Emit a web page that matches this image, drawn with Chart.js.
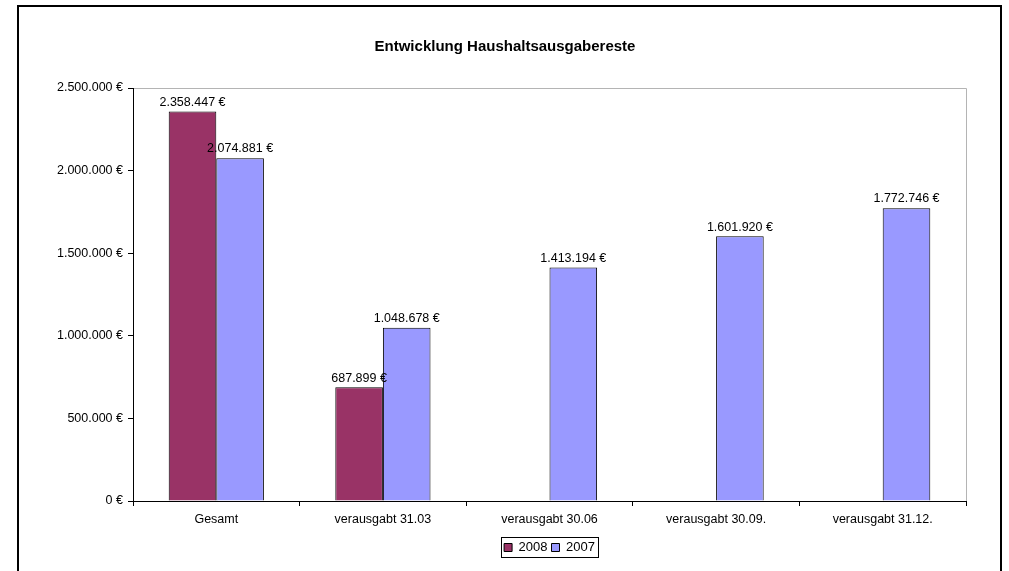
<!DOCTYPE html>
<html>
<head>
<meta charset="utf-8">
<title>Entwicklung Haushaltsausgabereste</title>
<script src="https://cdn.jsdelivr.net/npm/chart.js@4.4.0/dist/chart.umd.min.js"></script>
<style>
  html, body { margin: 0; padding: 0; background: #fff; }
</style>
</head>
<body>
<canvas id="chart" width="1009" height="571"></canvas>
<script>
// Daten aus der Vorlage
const categories = ['Gesamt', 'verausgabt 31.03', 'verausgabt 30.06', 'verausgabt 30.09.', 'verausgabt 31.12.'];
const values2008 = [2358447, 687899, null, null, null];
const values2007 = [2074881, 1048678, 1413194, 1601920, 1772746];
const yTicks = [0, 500000, 1000000, 1500000, 2000000, 2500000];

const FONT = '"Liberation Sans", Arial, sans-serif';

const euro = v => String(v).replace(/\B(?=(\d{3})+(?!\d))/g, '.') + ' €';

// Rahmen um das ganze Diagramm und die Zeichenfläche
const framePlugin = {
    id: 'frame',
    beforeDraw(chart) {
        const c = chart.ctx;
        const a = chart.chartArea;
        c.save();
        c.fillStyle = '#fff';
        c.fillRect(0, 0, chart.width, chart.height);
        c.strokeStyle = '#000';
        c.lineWidth = 2;
        c.strokeRect(18, 6, 983, 600);
        c.strokeStyle = '#b4b4b4';
        c.lineWidth = 1;
        c.beginPath();
        c.moveTo(Math.round(a.left) + 0.5, Math.round(a.top) + 0.5);
        c.lineTo(Math.round(a.right) + 0.5, Math.round(a.top) + 0.5);
        c.lineTo(Math.round(a.right) + 0.5, Math.round(a.bottom) + 0.5);
        c.stroke();
        c.restore();
    },
    afterDraw(chart) {
        // Kasten um die Legende
        const boxes = chart.legend.legendHitBoxes;
        if (!boxes || !boxes.length) return;
        let l = Infinity, r = -Infinity, t = Infinity, b = -Infinity;
        boxes.forEach(h => {
            l = Math.min(l, h.left); r = Math.max(r, h.left + h.width);
            t = Math.min(t, h.top); b = Math.max(b, h.top + h.height);
        });
        const c = chart.ctx;
        c.save();
        c.strokeStyle = '#000';
        c.lineWidth = 1;
        c.strokeRect(Math.round(l - 3) + 0.5, Math.round(t - 4) + 0.5, Math.round(r - l + 6), Math.round(b - t + 7));
        c.restore();
    }
};

// Wertebeschriftung über den Säulen
const labelPlugin = {
    id: 'barLabels',
    afterDatasetsDraw(chart) {
        const c = chart.ctx;
        c.save();
        c.font = '12.5px ' + FONT;
        c.fillStyle = '#000';
        c.textAlign = 'center';
        c.textBaseline = 'bottom';
        chart.data.datasets.forEach((ds, i) => {
            const meta = chart.getDatasetMeta(i);
            meta.data.forEach((bar, j) => {
                const v = ds.data[j];
                if (v === null || v === undefined) return;
                c.fillText(euro(v), bar.x, bar.y - 3);
            });
        });
        c.restore();
    }
};

new Chart(document.getElementById('chart'), {
    type: 'bar',
    data: {
        labels: categories,
        datasets: [{
            label: '2008',
            data: values2008,
            backgroundColor: '#993366',
            borderColor: '#000',
            borderWidth: 1
        }, {
            label: '2007',
            data: values2007,
            backgroundColor: '#9999ff',
            borderColor: '#000',
            borderWidth: 1
        }]
    },
    options: {
        responsive: false,
        animation: false,
        categoryPercentage: 2 / 3.5,
        barPercentage: 1,
        layout: { padding: { left: 44, right: 43, top: 0, bottom: 7 } },
        plugins: {
            title: {
                display: true,
                text: 'Entwicklung Haushaltsausgabereste',
                color: '#000',
                font: { family: FONT, size: 15, weight: 'bold' },
                padding: { top: 38, bottom: 32 }
            },
            legend: {
                position: 'bottom',
                fullSize: false,
                labels: {
                    color: '#000',
                    boxWidth: 8,
                    boxHeight: 8,
                    padding: 4,
                    font: { family: FONT, size: 13 }
                }
            },
            tooltip: { enabled: false }
        },
        scales: {
            x: {
                grid: { drawOnChartArea: false, tickLength: 5, color: '#000' },
                border: { color: '#000', width: 1 },
                ticks: { color: '#000', padding: 6, font: { family: FONT, size: 12.5 } },
                afterFit(scale) { scale.height = 36; }
            },
            y: {
                min: 0,
                max: 2500000,
                afterBuildTicks(scale) { scale.ticks = yTicks.map(v => ({ value: v })); },
                grid: { drawOnChartArea: false, tickLength: 5, color: '#000' },
                border: { color: '#000', width: 1 },
                ticks: {
                    color: '#000',
                    padding: 5,
                    font: { family: FONT, size: 12.5 },
                    callback: v => euro(v)
                },
                afterFit(scale) { scale.width = 89; }
            }
        }
    },
    plugins: [framePlugin, labelPlugin]
});
</script>
</body>
</html>
